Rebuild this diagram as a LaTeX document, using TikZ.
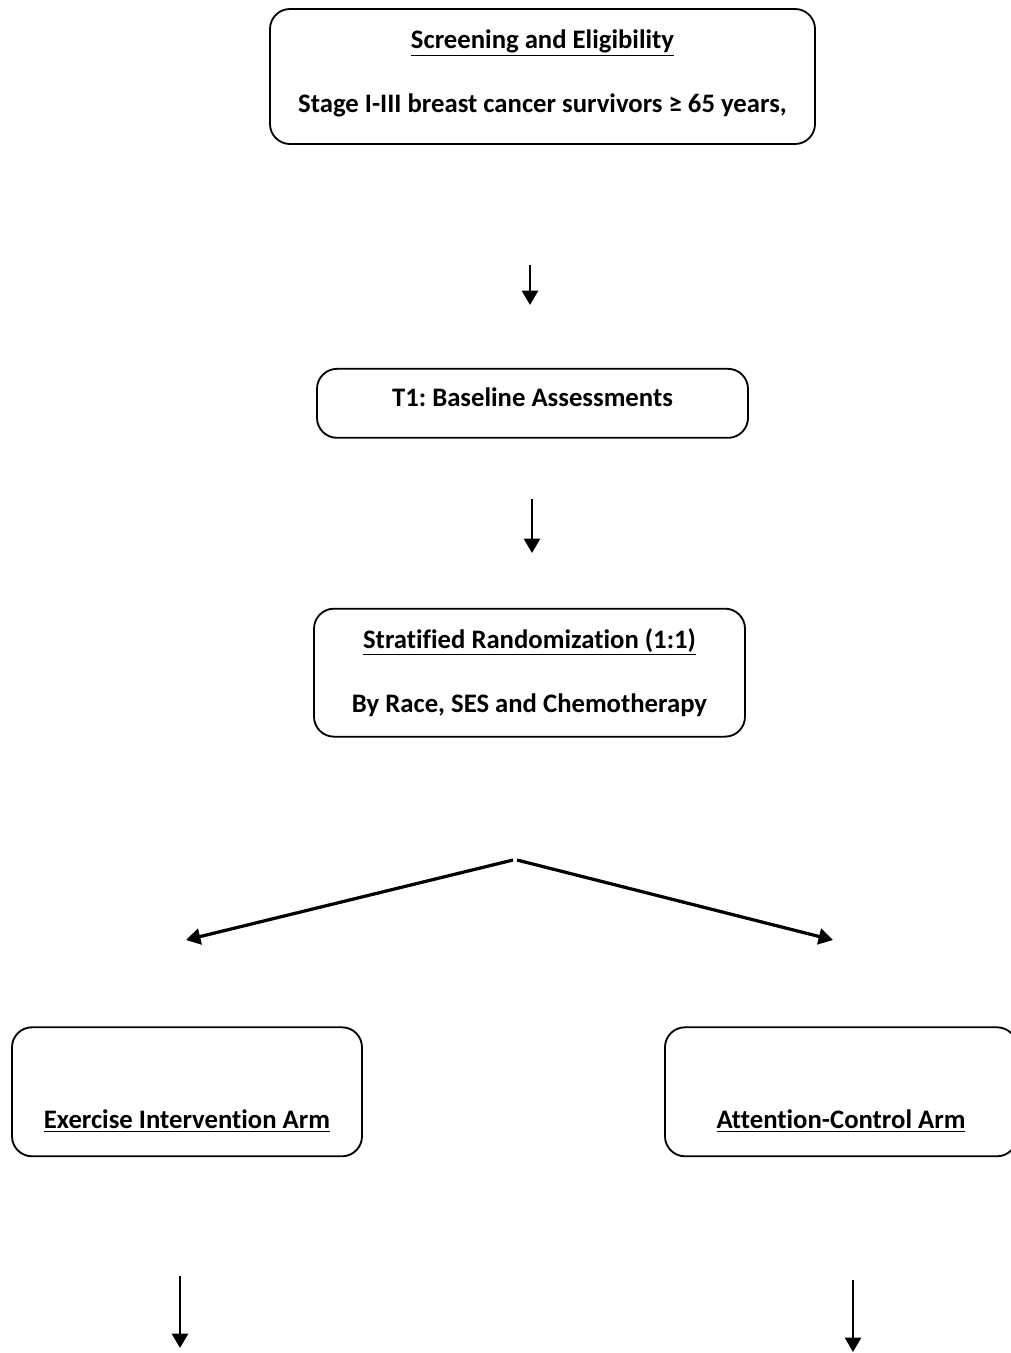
\documentclass[tikz,border=0pt]{standalone}
\usepackage{fontspec}
\setmainfont[RawFeature=-liga]{Carlito}
\usepackage{tikz}
\usetikzlibrary{arrows.meta,positioning,calc}
\frenchspacing

\begin{document}
\begin{tikzpicture}[
        node distance=5cm,
        box/.style={rectangle,rounded corners=0.5cm,draw=black,line width=1.3pt,
                    align=center,font=\fontsize{19}{22.7}\selectfont\bfseries},
        flow/.style={-{Triangle[length=0.36cm,width=0.4cm]},line width=2.1pt}
      ]
      \useasboundingbox (0,0) rectangle (25.25,-33.825);
      \node[box,minimum width=13.625cm,minimum height=3.375cm] (Screen) at (13.5625,-1.9125)
        {\raisebox{0.075cm}[\height][\depth]{\underline{Screening and Eligibility}}\\[0.8cm]%
         \raisebox{0.075cm}[\height][\depth]{Stage I-III breast cancer survivors ≥ 65 years,}};
      \node[box,minimum width=10.775cm,minimum height=1.725cm] (Base)
        [below=5.575cm of Screen,xshift=-0.25cm]
        {\raisebox{0.15cm}[\height][\depth]{T1: Baseline Assessments}};
      \node[box,minimum width=10.775cm,minimum height=3.2cm] (Rand)
        [below=4.225cm of Base,xshift=-0.075cm]
        {\underline{Stratified Randomization (1:1)}\\[0.8cm]By Race, SES and Chemotherapy};
      \node[box,minimum width=8.75cm,minimum height=3.225cm] (Exer)
        [below=7.22cm of Rand,xshift=-8.5625cm] {\strut\\[0.57cm]\underline{Exercise Intervention Arm}};
      \node[box,minimum width=8.8cm,minimum height=3.225cm] (Ctrl)
        [below=7.22cm of Rand,xshift=7.7875cm] {\strut\\[0.57cm]\underline{Attention-Control Arm}};

      % free arrow ends
      \coordinate (A1) at (13.25,-6.625);   \coordinate (A1e) at (13.25,-7.625);
      \coordinate (A2) at (13.3,-12.475);   \coordinate (A2e) at (13.3,-13.825);
      \coordinate (Sl) at (12.825,-21.5);   \coordinate (Sle) at (4.65,-23.5);
      \coordinate (Sr) at (12.925,-21.5);   \coordinate (Sre) at (20.825,-23.5);
      \coordinate (A4) at (4.5,-31.9);      \coordinate (A4e) at (4.5,-33.7);
      \coordinate (A5) at (21.325,-32.0);   \coordinate (A5e) at (21.325,-33.8);

      \draw[flow] (A1) -- (A1e);
      \draw[flow] (A2) -- (A2e);
      \draw[flow,line width=2.3pt] (Sl) -- (Sle);
      \draw[flow,line width=2.3pt] (Sr) -- (Sre);
      \draw[flow] (A4) -- (A4e);
      \draw[flow] (A5) -- (A5e);
    \end{tikzpicture}
\end{document}
